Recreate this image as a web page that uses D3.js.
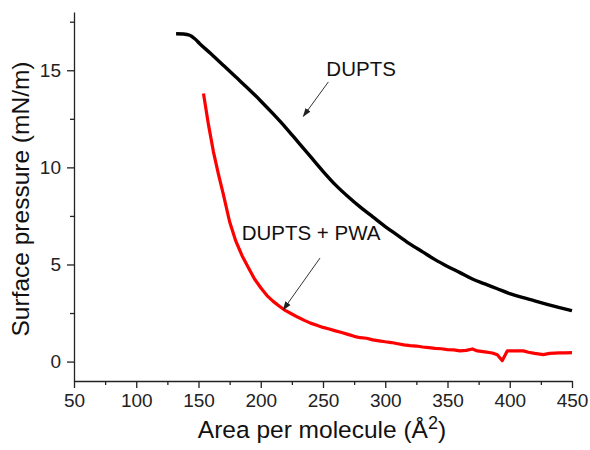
<!DOCTYPE html>
<html>
<head>
<meta charset="utf-8">
<script src="https://cdn.jsdelivr.net/npm/d3@7"></script>
<style>
  body { margin: 0; background: #fff; }
  svg { font-family: "Liberation Sans", Arial, sans-serif; }
</style>
</head>
<body>
<svg width="590" height="450"></svg>
<script>
// DUPTS isotherm (area in A^2, pressure in mN/m)
const duptsArea = [132, 138, 143, 147, 151, 160, 170, 180, 190, 200, 210, 220, 230, 240, 250,
    260, 270, 280, 290, 300, 310, 320, 330, 340, 350, 360, 370, 380, 390, 400, 410, 420, 430, 440, 450];
const duptsPressure = [16.88, 16.87, 16.8, 16.62, 16.37, 15.85, 15.25, 14.65, 14.05, 13.42, 12.75, 12.05, 11.3, 10.55, 9.8,
    9.1, 8.5, 7.95, 7.45, 6.95, 6.5, 6.05, 5.65, 5.25, 4.9, 4.58, 4.25, 4.0, 3.75, 3.5, 3.3, 3.13, 2.95, 2.78, 2.62];

// DUPTS + PWA isotherm
const pwaArea = [154, 158, 162, 166, 170, 175, 180, 185, 190, 195, 200, 205, 210, 215, 220, 225, 230, 235, 240, 245, 250,
    255, 260, 265, 270, 275, 280, 285, 290, 295, 300, 305, 310, 315, 320, 325, 330, 335, 340, 345, 350, 355, 360,
    365, 370, 374, 380, 386, 390, 393, 394, 396, 398, 405, 411, 415, 420, 427, 432, 440, 445, 450];
const pwaPressure = [13.8, 12.2, 10.8, 9.65, 8.6, 7.2, 6.2, 5.45, 4.85, 4.25, 3.8, 3.4, 3.1, 2.85, 2.62, 2.45, 2.28, 2.12, 1.98, 1.87, 1.76,
    1.68, 1.58, 1.5, 1.4, 1.3, 1.23, 1.2, 1.12, 1.07, 1.02, 0.98, 0.92, 0.86, 0.82, 0.8, 0.75, 0.72, 0.68, 0.66, 0.62, 0.6, 0.55,
    0.58, 0.65, 0.55, 0.5, 0.44, 0.35, 0.12, 0.05, 0.3, 0.55, 0.55, 0.55, 0.48, 0.42, 0.36, 0.42, 0.45, 0.45, 0.46];

const xMajor = [50, 100, 150, 200, 250, 300, 350, 400, 450];
const xMinor = [75, 125, 175, 225, 275, 325, 375, 425];
const yMajor = [0, 5, 10, 15];
const yMinor = [2.5, 7.5, 12.5, 17.5];

// annotation labels and arrows, in data units
const labels = ['DUPTS', 'DUPTS + PWA'];
const labelPos = [[252.7, 14.69], [184.7, 6.27]];
const arrowFrom = [[254.3, 14.4], [247.6, 5.33]];
const arrowTo = [[234.2, 12.63], [218.1, 2.67]];

const svg = d3.select('svg');
const x = d3.scaleLinear().domain([50, 450]).range([74, 572]);
const y = d3.scaleLinear().domain([-1, 18]).range([381, 12]);

svg.append('defs').append('marker')
    .attr('id', 'arrowhead')
    .attr('viewBox', '0 0 10 10')
    .attr('refX', 9).attr('refY', 5)
    .attr('markerWidth', 9).attr('markerHeight', 9)
    .attr('markerUnits', 'userSpaceOnUse')
    .attr('orient', 'auto')
    .append('path')
    .attr('d', 'M0,1.5 L10,5 L0,8.5 Z')
    .attr('fill', '#222');

// axes
const gx = svg.append('g').attr('transform', 'translate(0,381)');
gx.call(d3.axisBottom(x).tickValues(xMajor).tickSize(7).tickSizeOuter(0).tickPadding(6));
gx.append('g').call(d3.axisBottom(x).tickValues(xMinor).tickSize(4).tickFormat(''))
    .select('.domain').remove();

const gy = svg.append('g').attr('transform', 'translate(74,0)');
gy.call(d3.axisLeft(y).tickValues(yMajor).tickSize(7).tickSizeOuter(0).tickPadding(6));
gy.append('g').call(d3.axisLeft(y).tickValues(yMinor).tickSize(4).tickFormat(''))
    .select('.domain').remove();

svg.selectAll('.domain, .tick line').attr('stroke', '#222').attr('stroke-width', 1.3);
svg.selectAll('.tick text').attr('font-size', 19).attr('fill', '#222')
    .attr('font-family', '"Liberation Sans", Arial, sans-serif');

// curves
const smooth = d3.line().x(d => x(d[0])).y(d => y(d[1])).curve(d3.curveMonotoneX);
const raw = d3.line().x(d => x(d[0])).y(d => y(d[1]));

svg.append('path')
    .datum(duptsArea.map((a, i) => [a, duptsPressure[i]]))
    .attr('d', smooth)
    .attr('fill', 'none')
    .attr('stroke', '#000')
    .attr('stroke-width', 3.4)
    .attr('stroke-linejoin', 'round');

svg.append('path')
    .datum(pwaArea.map((a, i) => [a, pwaPressure[i]]))
    .attr('d', raw)
    .attr('fill', 'none')
    .attr('stroke', '#f00')
    .attr('stroke-width', 3.2)
    .attr('stroke-linejoin', 'round');

// annotations
labels.forEach((t, i) => {
    svg.append('text')
        .attr('x', x(labelPos[i][0]))
        .attr('y', y(labelPos[i][1]))
        .attr('font-size', 20.5)
        .attr('fill', '#111')
        .text(t);
    svg.append('line')
        .attr('x1', x(arrowFrom[i][0])).attr('y1', y(arrowFrom[i][1]))
        .attr('x2', x(arrowTo[i][0])).attr('y2', y(arrowTo[i][1]))
        .attr('stroke', '#333')
        .attr('stroke-width', 1)
        .attr('marker-end', 'url(#arrowhead)');
});

// axis titles
const xt = svg.append('text')
    .attr('x', 322).attr('y', 438)
    .attr('text-anchor', 'middle')
    .attr('font-size', 24.5)
    .attr('fill', '#111');
xt.append('tspan').text('Area per molecule (Å');
xt.append('tspan').attr('font-size', 18).attr('dy', -9).text('2');
xt.append('tspan').attr('dy', 9).text(')');

svg.append('text')
    .attr('transform', 'translate(29,199) rotate(-90)')
    .attr('text-anchor', 'middle')
    .attr('font-size', 24.5)
    .attr('fill', '#111')
    .text('Surface pressure (mN/m)');
</script>
</body>
</html>
